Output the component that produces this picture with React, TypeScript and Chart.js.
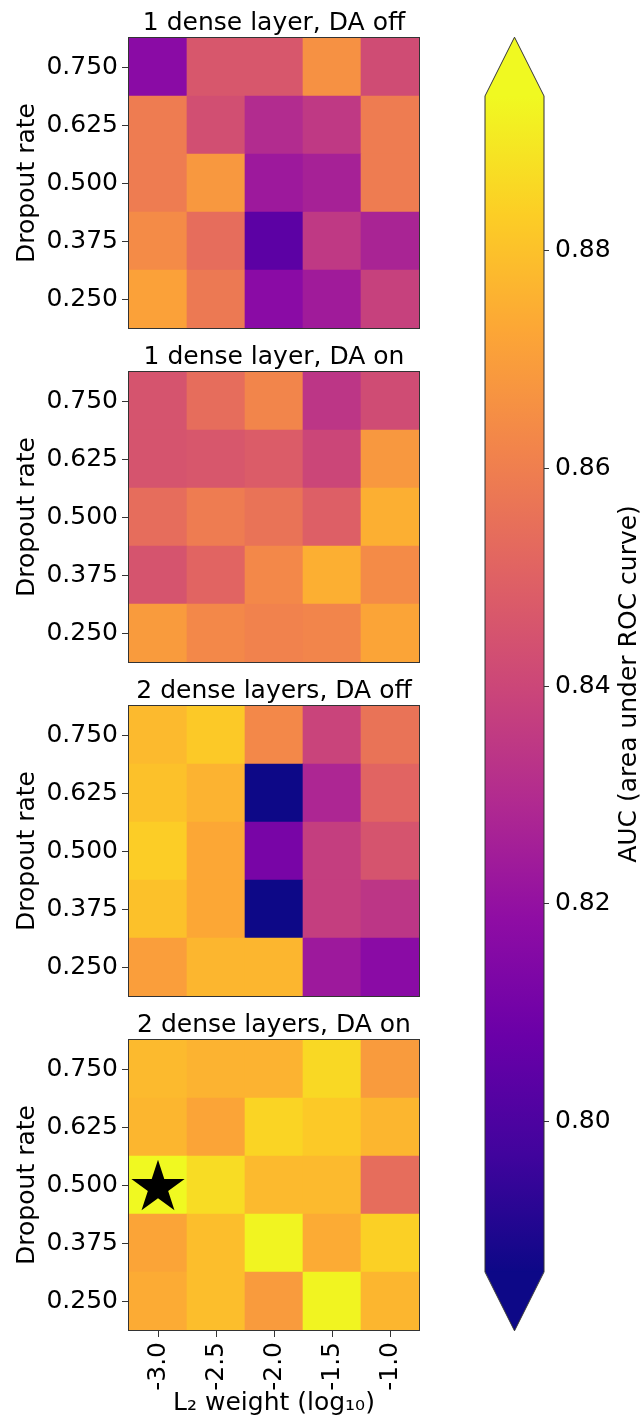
import React, { useEffect, useRef } from 'react';
import { Chart, registerables } from 'chart.js';

Chart.register(...registerables);

const FONT = "'DejaVu Sans', 'Noto Sans', sans-serif";

// ---------------- data ----------------
const l2Weights = ['-3.0', '-2.5', '-2.0', '-1.5', '-1.0'];
const dropoutRates = ['0.250', '0.375', '0.500', '0.625', '0.750'];
const panelTitles = [
  '1 dense layer, DA off',
  '1 dense layer, DA on',
  '2 dense layers, DA off',
  '2 dense layers, DA on',
];

// rows: dropout 0.250 -> 0.750 ; columns: L2 weight -3.0 -> -1.0
const auc1LayerDaOff = [
  [0.871, 0.858, 0.817, 0.824, 0.838],
  [0.864, 0.854, 0.804, 0.835, 0.827],
  [0.859, 0.868, 0.823, 0.826, 0.859],
  [0.859, 0.843, 0.830, 0.835, 0.859],
  [0.817, 0.846, 0.846, 0.866, 0.842],
];
const auc1LayerDaOn = [
  [0.869, 0.863, 0.861, 0.862, 0.872],
  [0.845, 0.851, 0.863, 0.875, 0.864],
  [0.854, 0.859, 0.856, 0.849, 0.875],
  [0.845, 0.846, 0.848, 0.840, 0.868],
  [0.845, 0.854, 0.862, 0.834, 0.842],
];
const auc2LayersDaOff = [
  [0.870, 0.877, 0.877, 0.823, 0.817],
  [0.880, 0.873, 0.780, 0.837, 0.834],
  [0.883, 0.873, 0.812, 0.837, 0.845],
  [0.880, 0.876, 0.780, 0.828, 0.851],
  [0.878, 0.882, 0.863, 0.839, 0.856],
];
const auc2LayersDaOn = [
  [0.874, 0.879, 0.869, 0.893, 0.877],
  [0.872, 0.879, 0.893, 0.874, 0.884],
  [0.895, 0.887, 0.878, 0.878, 0.854],
  [0.877, 0.872, 0.885, 0.882, 0.877],
  [0.878, 0.876, 0.876, 0.886, 0.869],
];
const panelGrids = [auc1LayerDaOff, auc1LayerDaOn, auc2LayersDaOff, auc2LayersDaOn];

const bestPanel = 3;
const bestL2 = '-3.0';
const bestDropout = '0.500';

const colorbarTicks = [0.8, 0.82, 0.84, 0.86, 0.88];
const colorbarLabel = 'AUC (area under ROC curve)';
const aucMin = 0.7862;
const aucMax = 0.8942;

const yAxisTitle = 'Dropout rate';
const xAxisTitle = 'L\u2082 weight (log\u2081\u2080)';

// plasma colormap stops
const plasmaStops = [
  '#0d0887', '#41049d', '#6a00a8', '#8f0da4', '#b12a90', '#cc4778',
  '#e16462', '#f2844b', '#fca636', '#fcce25', '#f0f921',
];

function hexToRgb(h: string) {
  return [parseInt(h.slice(1, 3), 16), parseInt(h.slice(3, 5), 16), parseInt(h.slice(5, 7), 16)];
}
function plasma(t: number) {
  const c = Math.max(0, Math.min(1, t));
  const n = plasmaStops.length - 1;
  const i = Math.min(n - 1, Math.floor(c * n));
  const f = c * n - i;
  const a = hexToRgb(plasmaStops[i]);
  const b = hexToRgb(plasmaStops[i + 1]);
  const m = a.map((v, k) => Math.round(v + (b[k] - v) * f));
  return `rgb(${m[0]},${m[1]},${m[2]})`;
}
function aucColor(v: number) {
  return plasma((v - aucMin) / (aucMax - aucMin));
}

function makeStar(R: number) {
  const size = Math.ceil(R * 2 + 4);
  const c = document.createElement('canvas');
  c.width = size;
  c.height = size;
  const ctx = c.getContext('2d')!;
  const cx = size / 2;
  const cy = size / 2 + R * 0.095;
  const r = R * 0.381966;
  ctx.beginPath();
  for (let k = 0; k < 10; k++) {
    const ang = -Math.PI / 2 + (k * Math.PI) / 5;
    const rad = k % 2 === 0 ? R : r;
    const x = cx + rad * Math.cos(ang);
    const y = cy + rad * Math.sin(ang);
    if (k === 0) ctx.moveTo(x, y);
    else ctx.lineTo(x, y);
  }
  ctx.closePath();
  ctx.fillStyle = '#000';
  ctx.fill();
  return c;
}

const framePlugin = {
  id: 'frame',
  afterDraw(chart: any) {
    const { ctx, chartArea: a } = chart;
    ctx.save();
    ctx.strokeStyle = '#333';
    ctx.lineWidth = 1;
    ctx.strokeRect(Math.round(a.left) - 0.5, Math.round(a.top) - 0.5, Math.round(a.right - a.left) + 1, Math.round(a.bottom - a.top) + 1);
    ctx.restore();
  },
};

const panelTitlePlugin = {
  id: 'panelTitle',
  afterDraw(chart: any, _args: any, opts: any) {
    const { ctx, chartArea: a } = chart;
    ctx.save();
    ctx.font = `25px ${FONT}`;
    ctx.fillStyle = '#000';
    ctx.textAlign = 'center';
    ctx.textBaseline = 'alphabetic';
    ctx.fillText(opts.text, (a.left + a.right) / 2, a.top - 8.5);
    ctx.restore();
  },
};

const AREA_TOP = 38;
const AREA_SIZE = 290;
const AREA_LEFT = 129;
const PANEL_STEP = 334;
const PAGE_H = 1421;
const HM_W = 460;
const BOTTOM_PAD = 20;

function Heatmap({ index }: { index: number }) {
  const ref = useRef<HTMLCanvasElement>(null);
  const showX = index === panelGrids.length - 1;
  const top = index * PANEL_STEP;
  const height = showX ? PAGE_H - top : AREA_TOP + AREA_SIZE + BOTTOM_PAD;
  useEffect(() => {
    const grid = panelGrids[index];
    const datasets: any[] = dropoutRates.map((d, r) => ({
      type: 'bar',
      label: d,
      data: l2Weights.map(() => 1),
      backgroundColor: grid[r].map(aucColor),
      stack: 'cells',
      barPercentage: 1,
      categoryPercentage: 1,
      borderWidth: 0,
      borderSkipped: false,
      order: 2,
    }));
    if (index === bestPanel) {
      datasets.push({
        type: 'scatter',
        label: 'best',
        data: [{ x: bestL2, y: dropoutRates.indexOf(bestDropout) + 0.5 }],
        pointStyle: makeStar(28),
        pointRadius: 28,
        order: 0,
      });
    }
    const xHeight = PAGE_H - (top + AREA_TOP + AREA_SIZE);
    const chart = new Chart(ref.current!, {
      type: 'bar',
      data: { labels: l2Weights, datasets },
      options: {
        responsive: false,
        animation: false,
        events: [],
        layout: {
          padding: {
            left: 0,
            right: HM_W - AREA_LEFT - AREA_SIZE,
            top: AREA_TOP,
            bottom: showX ? 0 : BOTTOM_PAD,
          },
        },
        plugins: {
          legend: { display: false },
          tooltip: { enabled: false },
          title: { display: false },
          panelTitle: { text: panelTitles[index] },
        } as any,
        scales: {
          x: {
            type: 'category',
            offset: true,
            stacked: true,
            display: showX,
            grid: { display: true, drawOnChartArea: false, drawTicks: true, tickLength: 7, color: '#333', offset: false },
            border: { display: false },
            ticks: { minRotation: 90, maxRotation: 90, autoSkip: false, padding: 5, font: { size: 25, family: FONT }, color: '#000' },
            title: { display: true, text: xAxisTitle, font: { size: 25, family: FONT }, color: '#000', padding: { top: 0, bottom: 3 } },
            afterFit: (s: any) => { s.height = showX ? xHeight : 0; },
          },
          y: {
            type: 'linear',
            min: 0,
            max: dropoutRates.length,
            stacked: true,
            afterBuildTicks: (s: any) => { s.ticks = dropoutRates.map((_, i) => ({ value: i + 0.5 })); },
            ticks: { callback: (v: any) => dropoutRates[Math.floor(v)], font: { size: 25, family: FONT }, color: '#000', padding: 4 },
            grid: { drawOnChartArea: false, tickLength: 7, color: '#333' },
            border: { display: false },
            title: { display: true, text: yAxisTitle, font: { size: 25, family: FONT }, color: '#000', padding: { top: 12, bottom: 0 } },
            afterFit: (s: any) => { s.width = AREA_LEFT; },
          },
        } as any,
      },
      plugins: [framePlugin, panelTitlePlugin],
    } as any);
    return () => chart.destroy();
  }, [index]);
  return (
    <div style={{ position: 'absolute', left: 0, top, width: HM_W, height }}>
      <canvas ref={ref} width={HM_W} height={height} />
    </div>
  );
}

const CB_LEFT = 470;
const CB_TOP = 30;
const CB_W = 171;
const CB_H = 1310;

const colorbarPlugin = {
  id: 'colorbarExtras',
  afterDraw(chart: any) {
    const { ctx, chartArea: a } = chart;
    const cx = (a.left + a.right) / 2;
    const ext = 0.05 * (a.bottom - a.top);
    ctx.save();
    ctx.fillStyle = plasmaStops[plasmaStops.length - 1];
    ctx.beginPath();
    ctx.moveTo(a.left, a.top + 0.5);
    ctx.lineTo(cx, a.top - ext);
    ctx.lineTo(a.right, a.top + 0.5);
    ctx.closePath();
    ctx.fill();
    ctx.fillStyle = plasmaStops[0];
    ctx.beginPath();
    ctx.moveTo(a.left, a.bottom - 0.5);
    ctx.lineTo(cx, a.bottom + ext);
    ctx.lineTo(a.right, a.bottom - 0.5);
    ctx.closePath();
    ctx.fill();
    ctx.strokeStyle = '#333';
    ctx.lineWidth = 1;
    ctx.beginPath();
    ctx.moveTo(a.left, a.top);
    ctx.lineTo(cx, a.top - ext);
    ctx.lineTo(a.right, a.top);
    ctx.lineTo(a.right, a.bottom);
    ctx.lineTo(cx, a.bottom + ext);
    ctx.lineTo(a.left, a.bottom);
    ctx.closePath();
    ctx.stroke();
    // label, reading bottom to top
    ctx.translate(159, (a.top + a.bottom) / 2);
    ctx.rotate(-Math.PI / 2);
    ctx.font = `25px ${FONT}`;
    ctx.fillStyle = '#000';
    ctx.textAlign = 'center';
    ctx.textBaseline = 'middle';
    ctx.fillText(colorbarLabel, 0, 0);
    ctx.restore();
  },
};

function Colorbar() {
  const ref = useRef<HTMLCanvasElement>(null);
  useEffect(() => {
    const chart = new Chart(ref.current!, {
      type: 'bar',
      data: {
        labels: ['AUC'],
        datasets: [
          {
            data: [[aucMin, aucMax]],
            backgroundColor: (c: any) => {
              const ch = c.chart;
              const a = ch.chartArea;
              if (!a) return plasma(0.5);
              const g = ch.ctx.createLinearGradient(0, a.bottom, 0, a.top);
              plasmaStops.forEach((col, i) => g.addColorStop(i / (plasmaStops.length - 1), col));
              return g;
            },
            barPercentage: 1,
            categoryPercentage: 1,
            borderWidth: 0,
          },
        ],
      },
      options: {
        responsive: false,
        animation: false,
        events: [],
        layout: { padding: { left: 15, right: 0, top: 66, bottom: 68 } },
        plugins: { legend: { display: false }, tooltip: { enabled: false } },
        scales: {
          x: { display: false, offset: true },
          y: {
            position: 'right',
            min: aucMin,
            max: aucMax,
            afterBuildTicks: (s: any) => { s.ticks = colorbarTicks.map((v) => ({ value: v })); },
            ticks: { callback: (v: any) => Number(v).toFixed(2), font: { size: 25, family: FONT }, color: '#000', padding: 6 },
            grid: { drawOnChartArea: false, tickLength: 5, color: '#333' },
            border: { display: false },
            afterFit: (s: any) => { s.width = 97; },
          },
        } as any,
      },
      plugins: [colorbarPlugin],
    } as any);
    return () => chart.destroy();
  }, []);
  return (
    <div style={{ position: 'absolute', left: CB_LEFT, top: CB_TOP, width: CB_W, height: CB_H }}>
      <canvas ref={ref} width={CB_W} height={CB_H} />
    </div>
  );
}

export default function App() {
  return (
    <div style={{ position: 'absolute', left: 0, top: 0, width: 641, height: PAGE_H, background: '#fff', overflow: 'hidden' }}>
      {panelGrids.map((_, i) => (
        <Heatmap key={i} index={i} />
      ))}
      <Colorbar />
    </div>
  );
}
